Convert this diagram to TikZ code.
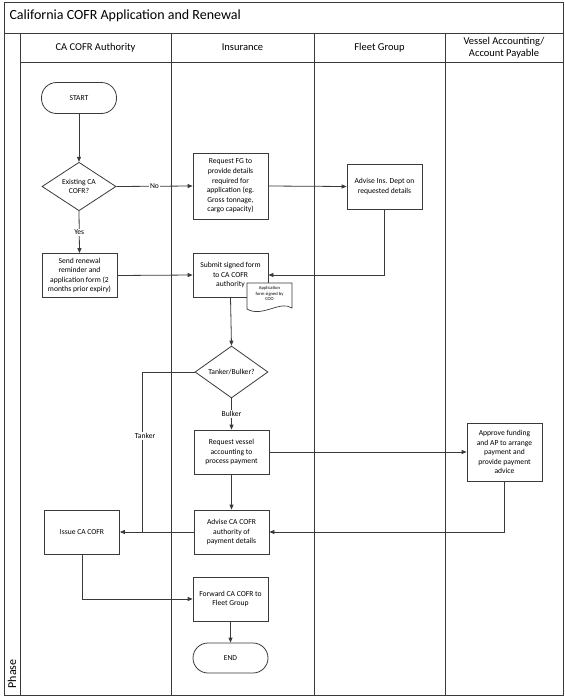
\documentclass[tikz,border=0pt]{standalone}
\usepackage{fontspec}
\setmainfont{Carlito}
\usetikzlibrary{shapes.geometric,arrows.meta}
\definecolor{lnc}{HTML}{3A3A3A}
\begin{document}
\begin{tikzpicture}[x=1pt,y=-1pt,
  frame/.style={draw=lnc, line width=0.9pt},
  proc/.style={draw=lnc, line width=0.8pt, fill=white, align=center, minimum width=75pt, minimum height=44pt, inner sep=1pt, font=\fontsize{7.6}{9.6}\selectfont},
  term/.style={proc, rounded corners=15pt, minimum height=31pt},
  decis/.style={draw=lnc, line width=0.8pt, fill=white, diamond, align=center, minimum width=74pt, minimum height=45pt, inner sep=0pt, font=\fontsize{7.6}{9.6}\selectfont},
  conn/.style={draw=lnc, line width=0.8pt, -{Triangle[length=5pt,width=4pt]}},
  lbl/.style={fill=white, inner sep=1pt, font=\fontsize{7.6}{9.6}\selectfont},
  hdr/.style={align=center, font=\fontsize{10.5}{12.5}\selectfont}]
\useasboundingbox (0,0) rectangle (565,699);
% frame
\draw[frame] (4,2) rectangle (563,695);
\draw[frame] (4,33) -- (563,33);
\draw[frame] (20,62) -- (563,62);
\draw[frame] (20,33) -- (20,695);
\draw[frame] (171,33) -- (171,695);
\draw[frame] (314,33) -- (314,695);
\draw[frame] (445,33) -- (445,695);
\node[anchor=west, font=\fontsize{14}{16}\selectfont] (title) at (6,16) {California COFR Application and Renewal};
\node[hdr] (h1) at (95.5,47.5) {CA COFR Authority};
\node[hdr] (h2) at (242.5,47.5) {Insurance};
\node[hdr] (h3) at (379.5,47.5) {Fleet Group};
\node[hdr] (h4) at (504,47.5) {Vessel Accounting/\\Account Payable};
\node[rotate=90, anchor=west, font=\fontsize{12}{14}\selectfont] (phase) at (12,692) {Phase};
% nodes
\node[term] (start) at (79,98) {START};
\node[decis] (dec1) at (79,186.5) {Existing CA\\COFR?};
\node[proc, minimum height=66pt] (reqfg) at (230.5,186) {Request FG to\\provide details\\required for\\application (eg.\\Gross tonnage,\\cargo capacity)};
\node[proc, minimum height=45pt] (advins) at (384.5,186.5) {Advise Ins. Dept on\\requested details};
\node[proc] (send) at (79.5,275.5) {Send renewal\\reminder and\\application form (2\\months prior expiry)};
\node[proc] (submit) at (230.5,275) {Submit signed form\\to CA COFR\\authority};
\draw[draw=lnc, line width=0.7pt, fill=white] (247,283) -- (292,283) -- (292,308) .. controls (280,300) and (262,318) .. (247,309) -- cycle;
\node[align=center, font=\fontsize{4.6}{5.4}\selectfont, inner sep=0pt] (doc) at (269.5,293.5) {Application\\form signed by\\COO};
\node[decis, minimum width=73pt, minimum height=44pt] (dec2) at (231.5,372) {Tanker/Bulker?};
\node[proc] (reqva) at (231.5,452) {Request vessel\\accounting to\\process payment};
\node[proc, minimum height=58pt] (approve) at (504.5,452) {Approve funding\\and AP to arrange\\payment and\\provide payment\\advice};
\node[proc] (adv2) at (231.5,532) {Advise CA COFR\\authority of\\payment details};
\node[proc] (issue) at (82,532) {Issue CA COFR};
\node[proc] (fwd) at (230.5,599) {Forward CA COFR to\\Fleet Group};
\node[term, minimum height=30pt] (end) at (230.5,658) {END};
% connectors
\coordinate (tkc) at (142,532);
\draw[conn] (start) -- (dec1);
\draw[conn] (dec1.east) -- node[lbl] {No} (reqfg.west);
\draw[conn] (dec1.south) -- node[lbl] {Yes} (send.north);
\draw[conn] (send.east) -- (submit.west);
\draw[conn] (reqfg.east) -- (advins.west);
\draw[conn] (advins.south) |- (submit.east);
\draw[conn] (submit.south) -- (dec2.north);
\draw[conn] (dec2.south) -- node[lbl] {Bulker} (reqva.north);
\draw[draw=lnc, line width=0.8pt] (dec2.west) -| node[lbl, pos=0.70, xshift=3pt] {Tanker} (tkc);
\draw[conn] (adv2.west) -- (issue.east);
\draw[conn] (reqva.south) -- (adv2.north);
\draw[conn] (reqva.east) -- (approve.west);
\draw[conn] (approve.south) |- (adv2.east);
\draw[conn] (issue.south) |- (fwd.west);
\draw[conn] (fwd.south) -- (end.north);
\end{tikzpicture}
\end{document}
